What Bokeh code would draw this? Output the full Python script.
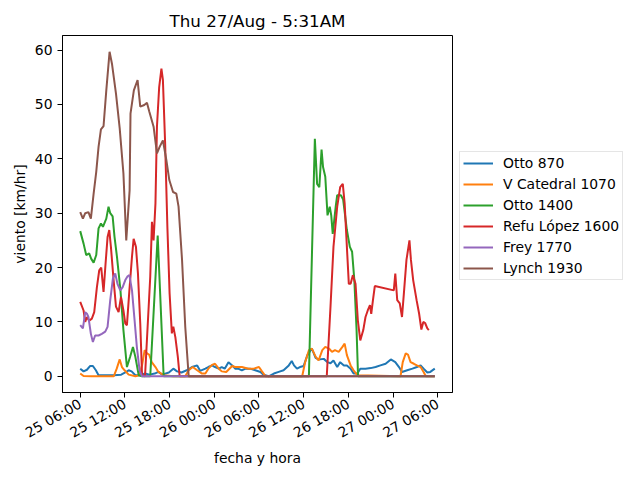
import math
import pandas as pd
from bokeh.plotting import figure
from bokeh.models import Legend, LegendItem, DatetimeTickFormatter, FixedTicker, Range1d
from bokeh.embed import file_html
from bokeh.resources import INLINE

# ---------------- data (hours after 25/Aug 06:00, km/hr) ----------------
start_time = "2020-08-25 06:00"
title_text = "Thu 27/Aug - 5:31AM"
x_label = "fecha y hora"
y_label = "viento [km/hr]"
y_ticks = [0, 10, 20, 30, 40, 50, 60]
x_tick_hours = [0, 6, 12, 18, 24, 30, 36, 42, 48]

names = ["Otto 870", "V Catedral 1070", "Otto 1400", "Refu López 1600", "Frey 1770", "Lynch 1930"]

otto870_h = [0.0, 0.45, 0.9, 1.34, 1.7, 2.1, 2.46, 3.5, 4.5, 5.5, 6.05, 6.5, 6.9, 7.4, 8.0, 8.7, 9.3,
             10.0, 10.5, 11.0, 11.9, 12.5, 13.0, 13.6, 14.3, 15.0, 15.7, 16.1, 16.8, 17.2, 17.7, 18.1,
             18.6, 19.0, 19.4, 19.9, 20.4, 20.8, 21.2, 21.7, 22.2, 22.8, 23.5, 24.2, 24.6, 25.3, 26.0,
             26.65, 27.3, 28.0, 28.4, 28.7, 29.1, 29.5, 30.0, 30.5, 31.1, 31.6, 32.0, 32.7, 33.2, 33.6,
             34.0, 34.5, 34.9, 35.4, 35.8, 36.3, 36.7, 37.2, 37.6, 38.3, 39.0, 39.65, 40.3, 41.0, 41.7,
             42.3, 42.8, 43.2, 43.9, 44.6, 45.2, 45.7, 46.1, 46.6, 47.0, 47.6]
otto870_v = [1.4, 0.9, 1.2, 1.9, 1.9, 1.1, 0.2, 0.2, 0.2, 0.3, 0.7, 1.1, 0.9, 0.2, 0.2, 0.5, 0.3,
             0.5, 0.8, 0.3, 0.7, 1.4, 0.9, 0.7, 1.1, 1.7, 2.0, 1.0, 1.4, 1.7, 2.0, 1.7,
             1.4, 1.7, 1.4, 2.6, 2.0, 1.4, 1.4, 1.1, 1.4, 1.4, 1.1, 0.8, 0.3, 0.0, 0.5,
             0.8, 1.1, 2.0, 2.8, 2.0, 1.4, 1.7, 1.9, 3.9, 5.1, 3.4, 3.1, 3.2, 2.6, 2.4,
             2.9, 1.7, 2.6, 2.0, 2.0, 1.4, 0.5, 0.5, 1.4, 1.4, 1.5, 1.7, 2.0, 2.3, 3.1,
             2.6, 1.7, 0.8, 1.1, 1.4, 1.7, 2.0, 1.4, 0.7, 0.8, 1.4]

catedral_h = [0.0, 0.45, 1.5, 3.0, 4.5, 4.9, 5.3, 5.6, 5.96, 6.5, 7.4, 7.9, 8.3, 8.65, 8.96, 9.25,
              9.6, 10.1, 10.5, 11.2, 12.5, 14.1, 14.56, 15.1, 15.7, 16.35, 16.8, 17.2, 17.7, 18.1,
              18.6, 19.0, 19.6, 20.4, 20.8, 21.7, 22.6, 23.3, 24.0, 24.4, 24.9, 29.8, 30.2, 30.7,
              31.1, 31.6, 32.0, 32.5, 32.9, 33.4, 33.8, 34.2, 34.7, 35.2, 35.5, 35.8, 36.3, 36.7,
              37.2, 43.0, 43.3, 43.7, 44.0, 44.35, 44.8, 45.2, 45.7, 46.1, 46.4, 47.6]
catedral_v = [0.5, 0.05, 0.0, 0.0, 0.0, 1.4, 3.1, 1.7, 1.1, 0.3, 0.0, 0.2, 2.0, 4.8, 4.2, 4.0,
              2.6, 1.7, 0.8, 0.2, 0.0, 0.0, 1.1, 1.7, 1.1, 0.5, 0.5, 1.4, 2.1, 2.3,
              1.4, 0.9, 0.8, 1.9, 1.7, 1.7, 1.4, 1.4, 1.7, 0.9, 0.0, 0.0, 2.6, 4.8,
              5.1, 3.6, 2.9, 4.8, 5.4, 5.1, 4.5, 4.8, 4.5, 5.4, 6.0, 3.9, 2.0, 1.1,
              0.2, 0.0, 2.6, 4.2, 4.0, 2.6, 2.3, 2.0, 1.7, 0.8, 0.0, 0.0]

otto1400_h = [0.0, 0.45, 0.8, 1.2, 1.48, 1.8, 2.15, 2.46, 2.78, 3.05, 3.5, 3.8, 4.03, 4.35, 4.6, 4.93,
              5.4, 5.8, 6.27, 6.7, 7.08, 7.4, 7.85, 8.3, 9.4, 10.4, 11.2, 30.7, 31.5, 31.8, 32.1, 32.4,
              32.6, 32.9, 33.2, 33.5, 33.7, 33.9, 34.3, 34.5, 35.0, 35.3, 35.8, 36.2, 36.5, 36.8, 37.1,
              37.3, 47.6]
otto1400_v = [26.7, 24.4, 22.3, 22.6, 21.6, 20.9, 22.3, 27.2, 28.1, 27.5, 29.0, 31.2, 30.0, 29.4, 25.7, 22.0,
              15.8, 8.5, 1.7, 3.6, 5.4, 3.6, 0.2, 0.0, 0.0, 25.9, 0.0, 0.0, 43.7, 35.4, 34.8, 41.7,
              38.5, 36.7, 29.6, 31.2, 29.6, 26.2, 31.2, 33.3, 33.3, 32.5, 26.9, 23.8, 22.9, 17.7, 8.5,
              0.0, 0.0]

refu_h = [0.0, 0.45, 0.67, 0.9, 1.2, 1.56, 1.88, 2.24, 2.55, 2.82, 3.13, 3.4, 3.67, 3.9, 4.12, 4.48,
          4.8, 5.15, 5.47, 5.8, 6.05, 6.27, 6.6, 6.95, 7.17, 7.48, 7.75, 8.06, 8.3, 8.7, 9.4, 9.63,
          9.85, 10.1, 10.3, 10.6, 10.9, 11.1, 11.4, 11.7, 12.0, 12.3, 12.5, 12.77, 13.1, 13.35, 33.1,
          33.6, 34.0, 34.5, 34.9, 35.25, 35.5, 35.8, 36.06, 36.3, 36.6, 36.96, 37.27, 37.6, 38.0, 38.3,
          38.6, 38.9, 39.07, 39.3, 39.55, 42.1, 42.3, 42.56, 42.9, 43.2, 43.45, 43.8, 44.2, 44.4, 44.7,
          45.16, 45.5, 45.8, 46.06, 46.3, 46.6, 46.8]
refu_v = [13.7, 12.1, 10.0, 10.9, 10.2, 10.6, 11.8, 16.4, 19.5, 20.0, 15.5, 20.7, 25.6, 26.9, 23.8, 17.7,
          12.8, 11.8, 14.6, 12.1, 9.7, 9.4, 15.8, 22.0, 25.3, 23.8, 18.9, 9.7, 0.2, 0.0, 18.3, 28.4,
          25.0, 31.8, 45.9, 53.2, 56.6, 54.5, 42.8, 27.5, 15.2, 7.9, 9.1, 7.2, 3.6, 0.0, 0.0,
          12.8, 23.8, 31.2, 34.8, 35.4, 31.8, 23.8, 17.0, 17.0, 18.6, 17.0, 10.3, 6.6, 8.5, 10.9,
          12.1, 13.1, 11.5, 14.0, 16.6, 15.8, 18.9, 14.0, 13.4, 10.9, 15.2, 21.4, 25.0, 21.4, 17.7,
          14.0, 11.5, 8.6, 10.0, 9.8, 8.8, 8.5]

frey_h = [0.0, 0.36, 0.67, 0.9, 1.1, 1.43, 1.7, 2.0, 2.46, 2.9, 3.36, 3.67, 4.03, 4.39, 4.7, 5.0,
          5.38, 5.7, 6.05, 6.36, 6.6, 6.95, 7.26, 7.6, 7.97, 8.3, 47.6]
frey_v = [9.4, 8.8, 11.8, 11.5, 10.9, 7.8, 6.3, 7.5, 7.5, 7.8, 8.2, 9.1, 14.0, 18.0, 18.9, 17.0,
          15.8, 16.4, 17.7, 18.4, 18.6, 15.8, 10.9, 5.4, 1.1, 0.0, 0.0]

lynch_h = [0.0, 0.36, 0.67, 1.1, 1.43, 1.8, 2.15, 2.46, 2.78, 3.13, 3.5, 3.94, 4.26, 4.8, 5.3, 5.8,
           6.18, 6.63, 6.75, 7.2, 7.7, 8.06, 8.6, 8.96, 9.27, 9.85, 10.3, 10.66, 11.1, 11.56, 11.96,
           12.46, 12.9, 13.2, 13.67, 14.1, 14.56, 47.6]
lynch_v = [30.2, 29.0, 30.0, 30.2, 29.0, 33.6, 37.6, 42.2, 45.4, 46.0, 52.6, 59.7, 57.5, 52.0, 45.6, 37.3,
           25.0, 34.2, 48.3, 52.6, 54.5, 49.6, 49.9, 50.3, 48.7, 45.9, 41.0, 42.2, 43.4, 39.8, 36.1,
           33.9, 33.6, 31.2, 21.4, 9.1, 0.0, 0.0]

colors = ["#1f77b4", "#ff7f0e", "#2ca02c", "#d62728", "#9467bd", "#8c564b"]
series_h = [otto870_h, catedral_h, otto1400_h, refu_h, frey_h, lynch_h]
series_v = [otto870_v, catedral_v, otto1400_v, refu_v, frey_v, lynch_v]

# ---------------- plot ----------------
t0 = pd.Timestamp(start_time)
def to_dt(hours):
    return [t0 + pd.Timedelta(hours=h) for h in hours]

all_h = [h for s in series_h for h in s]
all_v = [v for s in series_v for v in s]
hmin, hmax = min(all_h), max(all_h)
vmin, vmax = min(all_v), max(all_v)
hpad = 0.05 * (hmax - hmin)
vpad = 0.05 * (vmax - vmin)

FONT = "DejaVu Sans"
FS = "13.9px"
p = figure(frame_width=390, frame_height=357, x_axis_type="datetime", output_backend="svg",
           toolbar_location=None, title=title_text,
           x_range=Range1d(t0 + pd.Timedelta(hours=hmin - hpad), t0 + pd.Timedelta(hours=hmax + hpad)),
           y_range=Range1d(vmin - vpad, vmax + vpad),
           min_border_left=62, min_border_right=0, min_border_top=35, min_border_bottom=88)

p.background_fill_color = "white"
p.border_fill_color = "white"
p.outline_line_color = "black"
p.outline_line_width = 1
p.outline_line_alpha = 1
p.xgrid.visible = False
p.ygrid.visible = False

p.title.text_font = FONT
p.title.text_font_size = "16.7px"
p.title.text_font_style = "normal"
p.title.align = "center"
p.title.text_color = "black"

items = []
for name, c, hs, vs in zip(names, colors, series_h, series_v):
    r = p.line(to_dt(hs), vs, line_color=c, line_width=2)
    items.append(LegendItem(label=name, renderers=[r]))

tick_ms = [(t0 + pd.Timedelta(hours=h)).value / 1e6 for h in x_tick_hours]
p.xaxis.ticker = FixedTicker(ticks=tick_ms)
fmt = "%d %H:%M"
p.xaxis.formatter = DatetimeTickFormatter(minutes=fmt, hourmin=fmt, hours=fmt, days=fmt, months=fmt, years=fmt)
p.xaxis.major_label_orientation = math.pi / 6
p.yaxis.ticker = FixedTicker(ticks=y_ticks)

for ax in (p.xaxis[0], p.yaxis[0]):
    ax.axis_line_color = "black"
    ax.major_tick_line_color = "black"
    ax.minor_tick_line_color = None
    ax.major_tick_out = 5
    ax.major_tick_in = 0
    ax.major_label_standoff = 5
    ax.major_label_text_font = FONT
    ax.major_label_text_font_size = FS
    ax.major_label_text_color = "black"
    ax.axis_label_text_font = FONT
    ax.axis_label_text_font_size = FS
    ax.axis_label_text_font_style = "normal"
    ax.axis_label_text_color = "black"

p.xaxis.axis_label_standoff = 0
p.yaxis.axis_label_standoff = 4
p.xaxis.axis_label = x_label
p.yaxis.axis_label = y_label

legend = Legend(items=items, location=(7, 112))
legend.label_text_font = FONT
legend.label_text_font_size = FS
legend.label_text_color = "black"
legend.glyph_width = 30
legend.glyph_height = 16
legend.label_standoff = 10
legend.padding = 3
legend.spacing = 5
legend.margin = 0
legend.border_line_color = "#cccccc"
legend.border_line_width = 1
legend.background_fill_alpha = 0.8
p.add_layout(legend, "right")

open("out.html", "w").write(file_html(p, INLINE))
